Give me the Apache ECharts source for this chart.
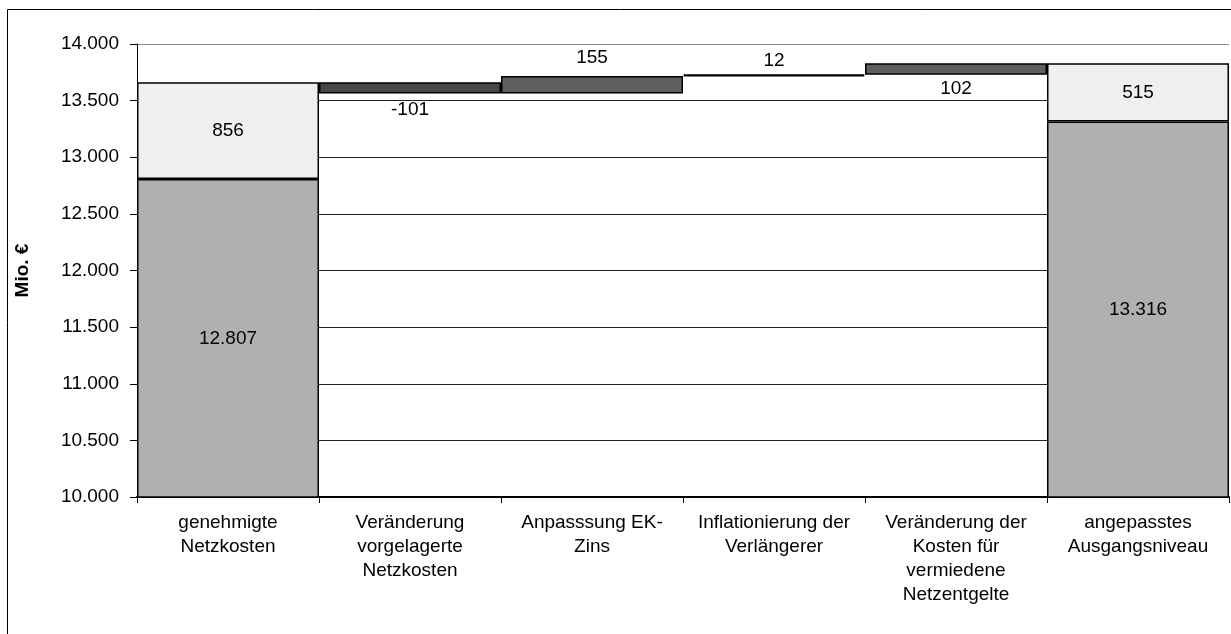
<!DOCTYPE html>
<html>
<head>
<meta charset="utf-8">
<script src="https://cdn.jsdelivr.net/npm/echarts@6/dist/echarts.min.js"></script>
<style>
html,body{margin:0;padding:0;background:#fff;}
#chart{width:1231px;height:634px;}
</style>
</head>
<body>
<div id="chart"></div>
<script>
// ---- data ----
const categories = [
  'genehmigte\nNetzkosten',
  'Veränderung\nvorgelagerte\nNetzkosten',
  'Anpasssung EK-\nZins',
  'Inflationierung der\nVerlängerer',
  'Veränderung der\nKosten für\nvermiedene\nNetzentgelte',
  'angepasstes\nAusgangsniveau'
];
const baseValues = [12807, null, null, null, null, 13316];
const changeValues = [856, -101, 155, 12, 102, 515];
const yMin = 10000, yMax = 14000, yStep = 500;

// ---- styles (not data) ----
const baseColor = '#b0b0b0';
const changeColors = ['#efefef', '#474747', '#5f5f5f', '#000000', '#5f5f5f', '#efefef'];
const changeBorders = [1.5, 1.5, 1.5, 2.2, 1.5, 1.5];
const changeLabelPos = [
  {position: 'inside'},
  {position: 'bottom', distance: 7},
  {position: 'top', distance: 9},
  {position: 'top', distance: 4},
  {position: 'bottom', distance: 5},
  {position: 'inside'}
];
const FONT = "'Liberation Sans', Arial, sans-serif";
const fmt = n => (n < 0 ? '-' : '') + Math.abs(n).toString().replace(/\B(?=(\d{3})+(?!\d))/g, '.');

// ---- build waterfall ----
const offsetData = [];
const changeData = [];
let level = 0;
categories.forEach((c, i) => {
  const ch = changeValues[i];
  if (baseValues[i] != null) {
    offsetData.push({
      value: baseValues[i],
      itemStyle: {color: baseColor, borderColor: '#000', borderWidth: 1.5},
      label: {show: true, position: 'inside', formatter: fmt(baseValues[i])}
    });
    level = baseValues[i] + ch;
  } else {
    const low = Math.min(level, level + ch);
    offsetData.push({
      value: low,
      itemStyle: {color: 'rgba(0,0,0,0)', borderWidth: 0},
      label: {show: false}
    });
    level += ch;
  }
  changeData.push({
    value: Math.abs(ch),
    itemStyle: {color: changeColors[i], borderColor: '#000', borderWidth: changeBorders[i]},
    label: Object.assign({show: true, formatter: fmt(ch)}, changeLabelPos[i])
  });
});

const nLines = Math.round((yMax - yMin) / yStep) + 1;
const splitColors = [];
for (let k = 0; k < nLines; k++) splitColors.push(k === nLines - 1 ? '#8a8a8a' : '#202020');

const chart = echarts.init(document.getElementById('chart'), null, {renderer: 'canvas'});
chart.setOption({
  animation: false,
  backgroundColor: '#fff',
  textStyle: {fontFamily: FONT},
  grid: {left: 137, right: 2, top: 44, bottom: 137, containLabel: false, outerBoundsMode: 'none'},
  xAxis: {
    type: 'category',
    data: categories,
    boundaryGap: true,
    axisLine: {lineStyle: {color: '#000', width: 2}},
    axisTick: {show: true, interval: 0, length: 6, lineStyle: {color: '#000'}},
    axisLabel: {interval: 0, color: '#000', fontFamily: FONT, fontSize: 19, lineHeight: 24, margin: 14}
  },
  yAxis: {
    type: 'value',
    min: yMin, max: yMax, interval: yStep,
    name: 'Mio. €',
    nameLocation: 'middle',
    nameRotate: 90,
    nameGap: 105,
    nameTextStyle: {fontFamily: FONT, fontSize: 19, fontWeight: 'bold', color: '#000'},
    axisLine: {show: true, lineStyle: {color: '#000', width: 1}},
    axisTick: {show: true, length: 7, lineStyle: {color: '#000'}},
    axisLabel: {color: '#000', fontFamily: FONT, fontSize: 19, margin: 18, formatter: v => fmt(v)},
    splitLine: {show: true, lineStyle: {color: splitColors, width: 1}}
  },
  series: [
    {
      type: 'bar', stack: 'w', data: offsetData,
      barCategoryGap: 0, barGap: 0,
      label: {color: '#000', fontFamily: FONT, fontSize: 19},
      z: 2
    },
    {
      type: 'bar', stack: 'w', data: changeData,
      barCategoryGap: 0, barGap: 0,
      label: {color: '#000', fontFamily: FONT, fontSize: 19},
      z: 3
    }
  ],
  graphic: [{
    type: 'rect',
    shape: {x: 7.5, y: 9.5, width: 1400, height: 800},
    style: {fill: 'none', stroke: '#000', lineWidth: 1},
    silent: true, z: 100
  }]
});
</script>
</body>
</html>
